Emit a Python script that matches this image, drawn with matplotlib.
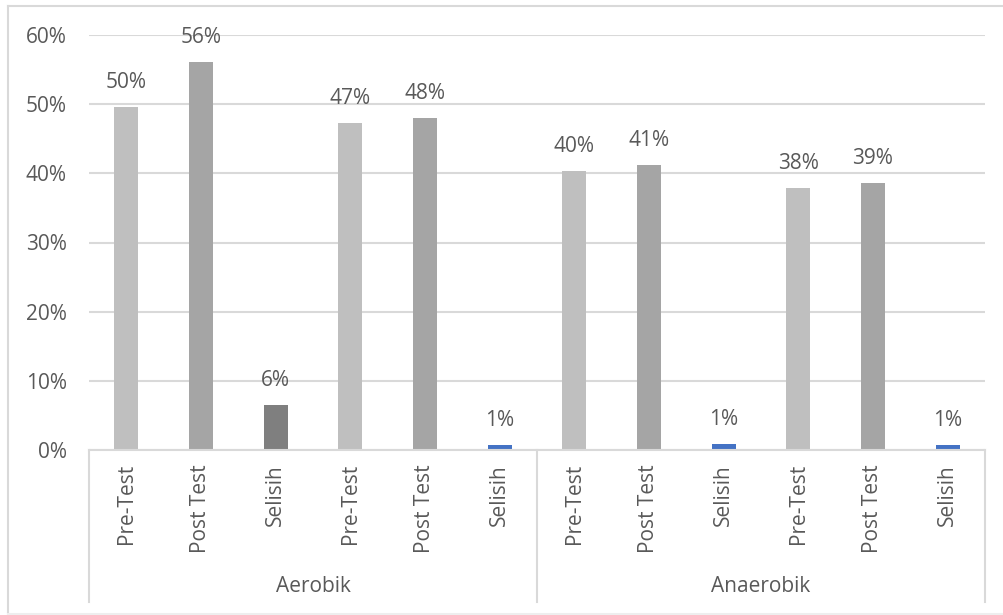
#%% Import Libraries
import matplotlib.pyplot as plt
from matplotlib.lines import Line2D
from matplotlib.ticker import FuncFormatter, MultipleLocator

plt.rcParams['font.family'] = ['Open Sans', 'DejaVu Sans']

#%% Data
labels = ['Pre-Test', 'Post Test', 'Selisih'] * 4
values = [49.6, 56.1, 6.5, 47.3, 48.0, 0.7, 40.3, 41.2, 0.9, 37.9, 38.6, 0.7]
shown = ['50%', '56%', '6%', '47%', '48%', '1%', '40%', '41%', '1%', '38%', '39%', '1%']
groups = ['Aerobik', 'Anaerobik']
colors = ['#bfbfbf', '#a5a5a5', '#7f7f7f', '#bfbfbf', '#a5a5a5', '#4472c4',
          '#bfbfbf', '#a5a5a5', '#4472c4', '#bfbfbf', '#a5a5a5', '#4472c4']

txt = '#595959'
grid = '#d9d9d9'
fs = 15

#%% Plot
fig = plt.figure(figsize=(10.04, 6.15), dpi=100)
W, H = 1004, 615
ax = fig.add_axes([89 / W, 1 - 450 / H, (985 - 89) / W, (450 - 35) / H])

x = list(range(len(values)))
ax.bar(x, values, width=0.32, color=colors, zorder=3)
for xi, v, s in zip(x, values, shown):
    ax.text(xi, v + 2.0, s, ha='center', va='bottom', fontsize=fs, color=txt)

ax.set_xlim(-0.5, len(values) - 0.5)
ax.set_ylim(0, 60)
ax.yaxis.set_major_locator(MultipleLocator(10))
ax.yaxis.set_major_formatter(FuncFormatter(lambda v, p: '%d%%' % v))
ax.grid(axis='y', color=grid, linewidth=1.5, zorder=0)
for sp in ax.spines.values():
    sp.set_visible(False)
ax.tick_params(axis='y', length=0, pad=16, labelsize=fs, labelcolor=txt)
ax.set_xticks(x)
ax.set_xticklabels(labels, rotation=90, fontsize=fs, color=txt, va='top')
ax.tick_params(axis='x', length=0, pad=10)

# category box lines below the axis
bottom = -(602 - 450) / 415
tr = ax.get_xaxis_transform()
ax.plot([-0.5, 11.5], [0, 0], color=grid, lw=1.5, transform=tr, clip_on=False, zorder=4)
for xv in [-0.5, 5.5, 11.5]:
    ax.plot([xv, xv], [0, bottom], color=grid, lw=1.5, transform=tr, clip_on=False)
for i, g in enumerate(groups):
    ax.text(2.5 + 6 * i, -(587 - 450) / 415, g, transform=tr, ha='center', va='center',
            fontsize=fs, color=txt)

# chart border
fig.add_artist(Line2D([8 / W, 8 / W], [1 - 6 / H, 1 - 614 / H], color=grid, lw=1.5))
fig.add_artist(Line2D([8 / W, 1], [1 - 6 / H, 1 - 6 / H], color=grid, lw=1.5))
fig.add_artist(Line2D([8 / W, 1], [1 - 614 / H, 1 - 614 / H], color='#eeeeee', lw=1.5))

plt.savefig('out.png', dpi=100)
